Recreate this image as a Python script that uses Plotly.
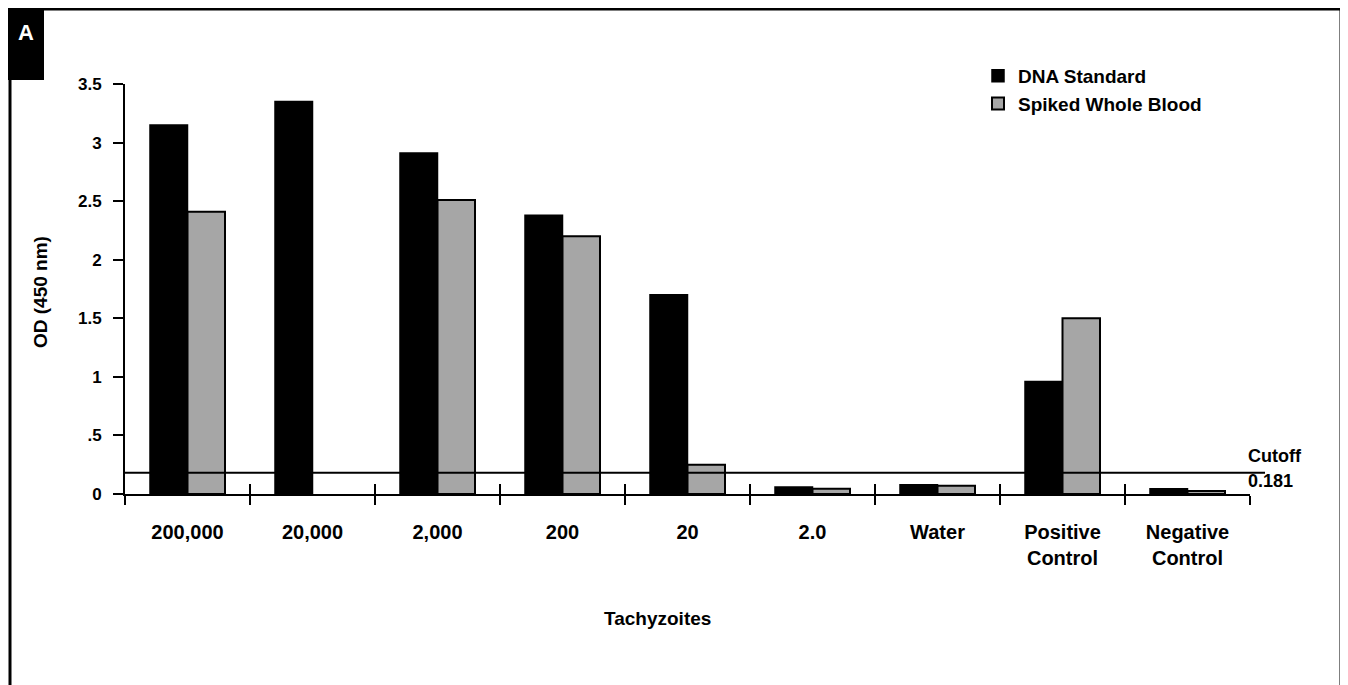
import plotly.graph_objects as go

categories = ["200,000", "20,000", "2,000", "200", "20", "2.0", "Water",
              "Positive<br>Control", "Negative<br>Control"]
dna_standard = [3.15, 3.35, 2.91, 2.38, 1.70, 0.06, 0.08, 0.96, 0.045]
spiked_blood = [2.41, None, 2.51, 2.20, 0.25, 0.045, 0.07, 1.50, 0.025]
cutoff = 0.181
y_tickvals = [0, 0.5, 1, 1.5, 2, 2.5, 3, 3.5]
y_ticktext = ["0", ".5", "1", "1.5", "2", "2.5", "3", "3.5"]

FONT = "Liberation Sans, Arial, sans-serif"
W, H = 1348, 685
OFF = 8  # page body margin offset
# plot area in page pixels
PL, PR, PT, PB = 125, 1250, 84, 494
ML = PL - OFF
MT = PT - OFF
MR = W - (PR - OFF)
MB = H - (PB - OFF)
PW = PR - PL
PH = PB - PT


def px_x(p):
    return (p - PL) / PW


def px_y(p):
    return (PB - p) / PH


def bold(size, color="black"):
    return dict(family=FONT, size=size, color=color, weight="bold")


fig = go.Figure()
fig.add_trace(go.Bar(
    x=categories, y=dna_standard, name="DNA Standard",
    marker=dict(color="#000000", line=dict(color="#000000", width=1.5)),
))
fig.add_trace(go.Bar(
    x=categories, y=spiked_blood, name="Spiked Whole Blood",
    marker=dict(color="#a6a6a6", line=dict(color="#000000", width=2)),
))
# invisible trace on overlaying axis for inward-facing boundary ticks
fig.add_trace(go.Scatter(x=categories, y=[None] * len(categories), xaxis="x2",
                         showlegend=False, hoverinfo="skip"))

fig.update_layout(
    width=W, height=H,
    margin=dict(l=ML, r=MR, t=MT, b=MB),
    paper_bgcolor="white", plot_bgcolor="white",
    barmode="group", bargap=0.4, bargroupgap=0,
    font=dict(family=FONT, color="black", size=17),
    showlegend=True,
    legend=dict(x=px_x(978), y=px_y(57), xanchor="left", yanchor="top",
                bgcolor="rgba(0,0,0,0)", itemwidth=30, font=bold(19)),
    xaxis=dict(
        type="category", range=[-0.5, 8.5],
        showline=True, linecolor="black", linewidth=2,
        ticks="outside", tickson="boundaries", ticklen=9, tickwidth=2, tickcolor="black",
        ticklabelstandoff=19, tickfont=bold(20),
        showgrid=False, zeroline=False,
    ),
    xaxis2=dict(
        type="category", range=[-0.5, 8.5], overlaying="x", matches="x",
        showline=False, ticks="inside", tickson="boundaries", ticklen=10,
        tickwidth=2, tickcolor="black", showticklabels=False, showgrid=False,
        zeroline=False,
    ),
    yaxis=dict(
        range=[0, 3.5], showline=True, linecolor="black", linewidth=2,
        ticks="outside", ticklen=10, tickwidth=2, tickcolor="black",
        tickvals=y_tickvals, ticktext=y_ticktext, ticklabelstandoff=8,
        tickfont=bold(17), showgrid=False, zeroline=False,
    ),
)

# cutoff line
fig.add_shape(type="line", xref="paper", yref="y", x0=0, x1=px_x(1265),
              y0=cutoff, y1=cutoff, line=dict(color="black", width=2), layer="above")

# outer frame
fig.add_shape(type="rect", xref="paper", yref="paper",
              x0=px_x(10), x1=px_x(1341), y0=px_y(720), y1=px_y(9),
              line=dict(color="black", width=3), fillcolor="rgba(0,0,0,0)")
# "A" label box
fig.add_shape(type="rect", xref="paper", yref="paper",
              x0=px_x(8), x1=px_x(44), y0=px_y(80), y1=px_y(8),
              line=dict(color="black", width=0), fillcolor="black")

annotations = [
    dict(text="A", x=px_x(26), y=px_y(33), xanchor="center", yanchor="middle",
         font=bold(22, "white")),
    dict(text="OD (450 nm)", x=px_x(40), y=px_y(292), xanchor="center", yanchor="middle",
         textangle=-90, font=bold(19)),
    dict(text="Tachyzoites", x=px_x(657), y=px_y(618), xanchor="center", yanchor="middle",
         font=bold(19)),
    dict(text="Cutoff", x=px_x(1246), y=px_y(456), xanchor="left", yanchor="middle",
         font=bold(18)),
    dict(text=f"{cutoff}", x=px_x(1246), y=px_y(481), xanchor="left", yanchor="middle",
         font=bold(18)),
]
for a in annotations:
    fig.add_annotation(xref="paper", yref="paper", showarrow=False, **a)

fig.write_html("out.html")
